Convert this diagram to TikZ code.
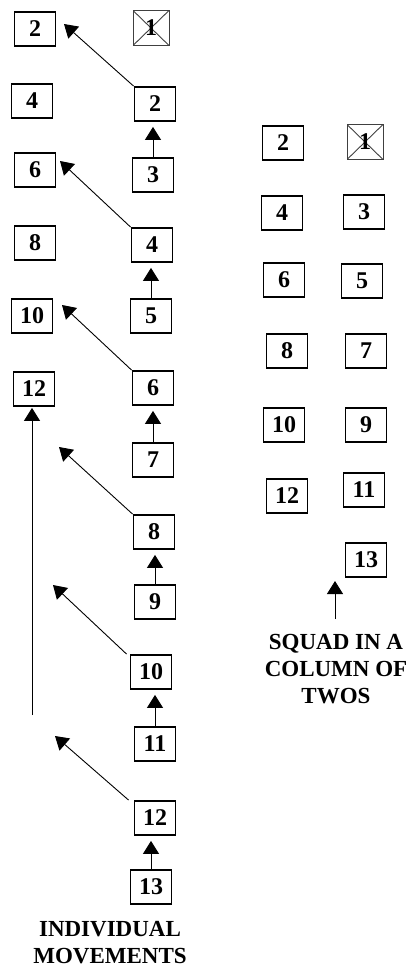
\documentclass[tikz,border=0pt]{standalone}
\usepackage{fontspec}
\setmainfont{Liberation Serif}
\usetikzlibrary{arrows.meta}
\begin{document}
\begin{tikzpicture}[x=1pt,y=-1pt,
  box/.style={draw, line width=1.8pt, minimum width=41pt, minimum height=34pt, inner sep=0pt,
    font=\fontsize{24}{24}\selectfont\bfseries},
  xbox/.style={draw=black!75, line width=0.9pt, minimum width=36pt, minimum height=35pt, inner sep=0pt,
    font=\fontsize{24}{24}\selectfont\bfseries,
    path picture={\draw[black!75, line width=0.9pt] (path picture bounding box.north west) -- (path picture bounding box.south east)
      (path picture bounding box.north east) -- (path picture bounding box.south west);}},
  arr/.style={line width=0.9pt, -{Triangle[length=13pt,width=16pt]}},
  lbl/.style={align=center, inner sep=0pt, font=\fontsize{23}{27}\selectfont\bfseries}
]
\useasboundingbox (0,0) rectangle (414,971);
% left column (destinations)
\node[box] (L2) at (35,29) {2};
\node[box] (L4) at (32,101) {4};
\node[box] (L6) at (35,170) {6};
\node[box] (L8) at (35,243) {8};
\node[box] (L10) at (32,316) {10};
\node[box] (L12) at (34,389) {12};
% right column (file)
\node[xbox] (R1) at (151,28) {1};
\node[box] (R2) at (155,104) {2};
\node[box] (R3) at (153,175) {3};
\node[box] (R4) at (152,245) {4};
\node[box] (R5) at (151,316) {5};
\node[box] (R6) at (153,388) {6};
\node[box] (R7) at (153,460) {7};
\node[box] (R8) at (154,532) {8};
\node[box] (R9) at (155,602) {9};
\node[box] (R10) at (151,672) {10};
\node[box] (R11) at (155,744) {11};
\node[box] (R12) at (155,818) {12};
\node[box] (R13) at (151,887) {13};
% vertical moves
\foreach \a/\b in {3/2,5/4,7/6,9/8,11/10,13/12}{
  \draw[arr, shorten >=5pt] (R\a.north) -- (R\a.north |- R\b.south);
}
% diagonal moves
\coordinate (T2) at (64,24);
\coordinate (T4) at (60,161);
\coordinate (T6) at (62,305);
\coordinate (T8) at (59,447);
\coordinate (T10) at (53,585);
\coordinate (T12) at (55,736);
\draw[arr] (R2.north west) -- (T2);
\draw[arr] (R4.north west) -- (T4);
\draw[arr] (R6.north west) -- (T6);
\draw[arr] (R8.north west) -- (T8);
\draw[arr] ([xshift=-3pt]R10.north west) -- (T10);
\draw[arr] ([xshift=-5pt]R12.north west) -- (T12);
% long move to 12
\coordinate (B12) at (32,715);
\draw[arr, shorten >=1pt] (B12) -- (B12 |- L12.south);
\node[lbl] (lab1) at (110,942.5) {INDIVIDUAL\\MOVEMENTS};
% right panel: squad in a column of twos
\node[box] (Q2) at (283,143) {2};
\node[xbox] (Q1) at (365,142) {1};
\node[box] (Q4) at (282,213) {4};
\node[box] (Q3) at (364,212) {3};
\node[box] (Q6) at (284,280) {6};
\node[box] (Q5) at (362,281) {5};
\node[box] (Q8) at (287,351) {8};
\node[box] (Q7) at (366,351) {7};
\node[box] (Q10) at (284,425) {10};
\node[box] (Q9) at (366,425) {9};
\node[box] (Q12) at (287,496) {12};
\node[box] (Q11) at (364,490) {11};
\node[box] (Q13) at (366,560) {13};
\coordinate (QB) at (335,619);
\coordinate (QT) at (335,581);
\draw[arr] (QB) -- (QT);
\node[lbl] (lab2) at (336,669) {SQUAD IN A\\COLUMN OF\\TWOS};
\end{tikzpicture}
\end{document}
